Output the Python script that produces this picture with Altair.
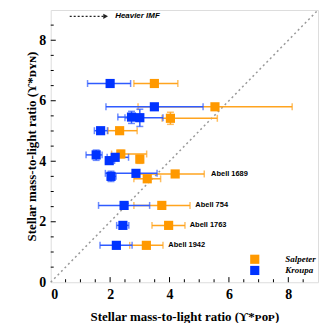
import altair as alt
import pandas as pd

# Kroupa (blue) points: x, y, x error range, optional y error range
k_x = [2.00, 3.49, 2.72, 3.00, 1.68, 1.53, 1.97, 2.17, 2.87, 2.03, 2.47, 2.43, 2.21]
k_y = [6.57, 5.80, 5.46, 5.44, 5.01, 4.21, 4.02, 4.13, 3.60, 3.50, 2.54, 1.88, 1.22]
k_xlo = [1.24, 1.86, 2.26, 2.50, 1.47, 1.19, 1.85, 1.90, 1.84, 1.92, 1.61, 2.22, 1.66]
k_xhi = [2.69, 5.13, 3.05, 3.78, 1.91, 1.73, 2.15, 2.62, 3.58, 2.20, 3.33, 2.63, 2.74]
k_ylo = [None, None, 5.25, 5.15, None, 4.03, 3.95, 4.03, None, 3.33, None, None, None]
k_yhi = [None, None, 5.65, 5.72, None, 4.37, 4.10, 4.22, None, 3.67, None, None, None]

# Salpeter (orange) points
s_x = [3.49, 5.53, 4.03, 2.32, 2.36, 3.00, 4.19, 3.25, 3.74, 3.97, 3.22]
s_y = [6.57, 5.80, 5.42, 5.01, 4.24, 4.07, 3.58, 3.42, 2.54, 1.88, 1.22]
s_xlo = [2.80, 2.94, 3.75, 1.93, 2.05, 2.93, 2.97, 2.80, 2.80, 3.41, 2.66]
s_xhi = [4.28, 8.13, 5.61, 2.91, 3.23, 3.08, 5.17, 3.70, 4.69, 4.52, 3.78]
s_ylo = [None, None, 5.22, None, 4.12, 3.93, None, 3.35, None, None, None]
s_yhi = [None, None, 5.62, None, 4.36, 4.20, None, 3.50, None, None, None]

# cluster labels
lab_text = ["Abell 1689", "Abell 754", "Abell 1763", "Abell 1942"]
lab_x = [5.40, 4.87, 4.68, 3.96]
lab_y = [3.58, 2.54, 1.88, 1.22]

# legend
leg_names = ["Salpeter", "Kroupa"]
leg_x = [6.87, 6.87]
leg_tx = [7.9, 7.9]
leg_y = [0.76, 0.39]

# annotation
ann_x0, ann_x1, ann_y = 0.64, 1.85, 8.79
ann_tx = 2.17

# axis
tick_vals = [i * 0.5 for i in range(1, 18)]
label_vals = [0, 2, 4, 6, 8]

ORANGE = "#FF9900"
BLUE = "#0033FF"
ORANGE_BAR = "#FFA41F"
BLUE_BAR = "#2F5BFF"

xs = alt.Scale(domain=[0, 9], nice=False)
ys = alt.Scale(domain=[0, 9], nice=False)

W, H = 269, 274

x_axis = alt.Axis(values=label_vals, ticks=False, domain=False, grid=False,
                  labelFont="Liberation Serif", labelFontWeight="bold", labelFontSize=14,
                  labelColor="black", labelPadding=5,
                  title="Stellar mass-to-light ratio (ϒ*ᴘᴏᴘ)",
                  titleFont="Liberation Serif", titleFontWeight="bold", titleFontSize=13,
                  titleColor="black", titleY=34, titleBaseline="middle")
y_axis = alt.Axis(values=label_vals, ticks=False, domain=False, grid=False,
                  labelFont="Liberation Serif", labelFontWeight="bold", labelFontSize=14,
                  labelColor="black", labelPadding=5,
                  title="Stellar mass-to-light ratio (ϒ*ᴅʏɴ)",
                  titleFont="Liberation Serif", titleFontWeight="bold", titleFontSize=13,
                  titleColor="black", titleX=-19, titleY=H / 2, titleAngle=-90,
                  titleAlign="center", titleBaseline="middle")


def X(f):
    return alt.X(f, type="quantitative", scale=xs, axis=x_axis)


def Y(f):
    return alt.Y(f, type="quantitative", scale=ys, axis=y_axis)


def series(xv, yv, xlo, xhi, ylo, yhi):
    df = pd.DataFrame({"x": xv, "y": yv, "xlo": xlo, "xhi": xhi})
    ye = pd.DataFrame({"x": xv, "y": yv, "ylo": ylo, "yhi": yhi}).dropna()
    return df, ye


kdf, kye = series(k_x, k_y, k_xlo, k_xhi, k_ylo, k_yhi)
sdf, sye = series(s_x, s_y, s_xlo, s_xhi, s_ylo, s_yhi)


def bars(df, ye, color):
    hb = alt.Chart(df).mark_rule(color=color, strokeWidth=1.5).encode(
        x=X("xlo"), x2="xhi", y=Y("y"))
    capl = alt.Chart(df).mark_tick(color=color, orient="vertical", size=7, thickness=1.5).encode(
        x=X("xlo"), y=Y("y"))
    capr = alt.Chart(df).mark_tick(color=color, orient="vertical", size=7, thickness=1.5).encode(
        x=X("xhi"), y=Y("y"))
    vb = alt.Chart(ye).mark_rule(color=color, strokeWidth=1.5).encode(
        x=X("x"), y=Y("ylo"), y2="yhi")
    capb = alt.Chart(ye).mark_tick(color=color, orient="horizontal", size=7, thickness=1.5).encode(
        x=X("x"), y=Y("ylo"))
    capt = alt.Chart(ye).mark_tick(color=color, orient="horizontal", size=7, thickness=1.5).encode(
        x=X("x"), y=Y("yhi"))
    return [hb, capl, capr, vb, capb, capt]


def points(df, color):
    return alt.Chart(df).mark_square(color=color, size=85, opacity=1).encode(
        x=X("x"), y=Y("y"))


diag = pd.DataFrame({"x": [0, 9], "y": [0, 9]})
base = alt.Chart(diag).mark_line(color="#999999", strokeDash=[2, 3], strokeWidth=1.5).encode(
    x=X("x"), y=Y("y"))

# inward ticks
tk = pd.DataFrame({"v": tick_vals,
                   "len": [0.17 if (v % 2 == 0) else 0.1 for v in tick_vals]})
tk["zero"] = 0.0
xticks = alt.Chart(tk).mark_rule(color="black", strokeWidth=1).encode(
    x=X("v"), y=Y("zero"), y2="len")
yticks = alt.Chart(tk).mark_rule(color="black", strokeWidth=1).encode(
    y=Y("v"), x=X("zero"), x2="len")

# annotation arrow
ann = pd.DataFrame({"x0": [ann_x0], "x1": [ann_x1], "y": [ann_y], "tx": [ann_tx],
                    "t": ["Heavier IMF"]})
arrow_line = alt.Chart(ann).mark_rule(color="#222222", strokeDash=[2, 2], strokeWidth=1.3).encode(
    x=X("x0"), x2="x1", y=Y("y"))
arrow_head = alt.Chart(ann).mark_point(shape="triangle-right", filled=True, color="#222222",
                                       size=30, opacity=1).encode(x=X("x1"), y=Y("y"))
arrow_text = alt.Chart(ann).mark_text(align="left", baseline="middle", font="Liberation Sans",
                                      fontWeight="bold", fontStyle="italic", fontSize=8,
                                      color="black").encode(x=X("tx"), y=Y("y"), text="t:N")

labs = pd.DataFrame({"x": lab_x, "y": lab_y, "t": lab_text})
lab_layer = alt.Chart(labs).mark_text(align="left", baseline="middle", font="Liberation Sans",
                                      fontWeight="bold", fontSize=7.5, color="black").encode(
    x=X("x"), y=Y("y"), text="t:N")

leg = pd.DataFrame({"x": leg_x, "tx": leg_tx, "y": leg_y, "t": leg_names, "c": [ORANGE, BLUE]})
leg_sq = alt.Chart(leg).mark_square(size=85, opacity=1).encode(
    x=X("x"), y=Y("y"), color=alt.Color("c:N", scale=None))
leg_txt = alt.Chart(leg).mark_text(align="left", baseline="middle", font="Liberation Serif",
                                   fontWeight="bold", fontStyle="italic", fontSize=9,
                                   color="black").encode(
    x=X("tx"), y=Y("y"), text="t:N")

layers = [base, xticks, yticks, arrow_line, arrow_head, arrow_text]
layers += bars(sdf, sye, ORANGE_BAR)
layers += bars(kdf, kye, BLUE_BAR)
layers += [points(sdf, ORANGE), points(kdf, BLUE), lab_layer, leg_sq, leg_txt]

chart = alt.layer(*layers).properties(
    width=W, height=H,
    autosize=alt.AutoSizeParams(type="none"),
    padding={"left": 43, "top": 1, "right": 2, "bottom": 40},
).configure_view(stroke="black", strokeWidth=1.2).configure(background="white")

chart.save("out.html", embed_options={"renderer": "svg", "actions": False})
